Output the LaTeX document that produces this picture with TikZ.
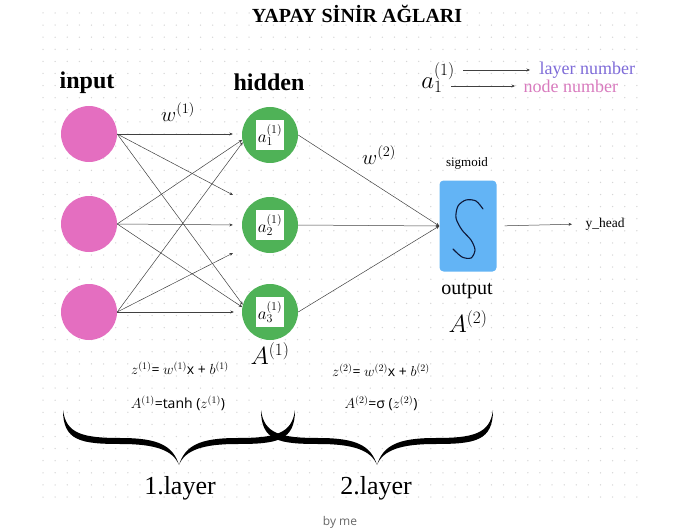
\documentclass[tikz,border=0pt]{standalone}
\usepackage{fontspec}
\setmainfont{Liberation Serif}
\setsansfont{Open Sans}
\usepackage{tikz}
\usetikzlibrary{arrows.meta,positioning}

\definecolor{inpink}{HTML}{E46EC0}
\definecolor{hidgreen}{HTML}{4FB257}
\definecolor{outblue}{HTML}{63B4F5}
\definecolor{sdark}{HTML}{0E1838}
\definecolor{laypurple}{HTML}{7E6BD8}
\definecolor{nodpink}{HTML}{D87BBE}

% curly brace under one layer, #1 = top left corner
\newcommand{\layerbrace}[1]{%
  \fill[shift={#1}] (0,0) .. controls (3,24) and (20,28) .. (58,28)
     .. controls (96,28) and (110,36) .. (116,55)
     .. controls (122,36) and (136,28) .. (174,28)
     .. controls (212,28) and (229,24) .. (232,0)
     .. controls (232,31) and (214,34) .. (174,34)
     .. controls (140,34) and (122,40) .. (116,55)
     .. controls (110,40) and (92,34) .. (58,34)
     .. controls (18,34) and (0,31) .. (0,0) -- cycle;}

\begin{document}
\begin{tikzpicture}[x=1pt, y=-1pt,
  inn/.style   = {circle, fill=inpink, minimum size=56pt, inner sep=0pt},
  hid/.style   = {circle, fill=hidgreen, minimum size=56pt, inner sep=0pt},
  abox/.style  = {rectangle, fill=white, minimum width=28pt, minimum height=30pt,
                  inner sep=0.5pt, font=\fontsize{18}{18}\selectfont},
  outbox/.style= {rectangle, rounded corners=4pt, fill=outblue,
                  minimum width=57pt, minimum height=91pt},
  lbl/.style   = {font=\bfseries\fontsize{24}{26}\selectfont},
  wlbl/.style  = {font=\fontsize{20}{20}\selectfont},
  big/.style   = {font=\fontsize{20}{20}\selectfont},
  bigm/.style  = {font=\fontsize{24}{24}\selectfont},
  eq/.style    = {font=\fontsize{14}{15}\selectfont},
  lay/.style   = {font=\fontsize{26}{28}\selectfont},
  arr/.style   = {-{Stealth[length=3.5pt,width=3pt]}, line width=0.5pt, draw=black!75}
]
\useasboundingbox (0,0) rectangle (680,532);

% , - Dotted paper , -
\foreach \i in {0,...,49}
  \foreach \j in {0,...,40}
    \fill[black!16] (43+12.12*\i, 13+12.1*\j) circle (0.75);

% , - Title and legend , -
\node[font=\bfseries\fontsize{20}{22}\selectfont] (title) at (357,14) {YAPAY SİNİR AĞLARI};
\node[font=\fontsize{27}{27}\selectfont] (leg) at (438,78) {$a_1^{(1)}$};
\node[anchor=west, font=\fontsize{18}{18}\selectfont, text=laypurple] (layno) at (536,70) {layer number};
\node[anchor=west, font=\fontsize{18}{18}\selectfont, text=nodpink]  (nodno) at (520,86) {node number};
\draw[arr] ([xshift=5pt]leg.east |- layno.west) -- ([xshift=-6pt]layno.west);
\draw[arr] ([xshift=-7pt]leg.east |- nodno.west) -- ([xshift=-5pt]nodno.west);

% , - Input layer , -
\node[lbl] (inlbl) at (87,83) {input};
\node[inn] (in1) at (89,134) {};
\node[inn] (in2) at (89,224) {};
\node[inn] (in3) at (89,312) {};

% , - Hidden layer , -
\node[lbl] (hidlbl) at (269,82) {hidden};
\node[hid] (hid1) at (270,135) {};
\node[hid] (hid2) at (270,225) {};
\node[hid] (hid3) at (270,312) {};
\node[abox] (a1) at (hid1) {$a_1^{(1)}$};
\node[abox] (a2) at (hid2) {$a_2^{(1)}$};
\node[abox] (a3) at (hid3) {$a_3^{(1)}$};
\node[bigm] (A1) at (270,354) {$A^{(1)}$};

% , - Output , -
\node[outbox] (out) at (468,226) {};
\draw[sdark, line width=1.1pt, line cap=round] plot[smooth] coordinates
  {(483,209) (476,201) (466,200) (458,206) (456,218) (462,230) (471,240)
   (475,250) (471,258) (462,257) (453,249)};
\node[font=\fontsize{13}{14}\selectfont] (sig) at (467,163) {sigmoid};
\node[big] (outlbl) at (467,291) {output};
\node[bigm] (A2) at (468,322) {$A^{(2)}$};
\node[anchor=west, font=\fontsize{13.5}{15}\selectfont] (yhead) at (582,224) {y\_head};

% , - Weights , -
\coordinate (s1) at (233,195);
\coordinate (s2) at (233,253);
\node[wlbl] (w1) at (178,112) {$w^{(1)}$};
\node[wlbl] (w2) at (379,155) {$w^{(2)}$};

% , - Arrows , -
\draw[arr, shorten >=9pt] (in1.east) -- (hid1.west |- in1.east);
\draw[arr] (in1.east) -- (s1);
\draw[arr] (in1.east) -- (hid3.165);
\draw[arr] (in2.east) -- (hid1.190);
\draw[arr, shorten >=9pt] (in2.east) -- (hid2.west);
\draw[arr] (in2.east) -- (hid3.170);
\draw[arr] (in3.east) -- (hid1.195);
\draw[arr] (in3.east) -- (s2);
\draw[arr, shorten >=8pt] (in3.east) -- (hid3.west);
\draw[arr] (hid1.east) -- (out.west);
\draw[arr] (hid2.east) -- (out.west);
\draw[arr] (hid3.east) -- (out.west);
\draw[arr, shorten <=8pt, shorten >=10pt] (out.east) -- (yhead.west);

% , - Formulas , -
\node[eq] (z1) at (180,368) {$z^{(1)}$\textsf{= }$w^{(1)}$\textsf{x + }$b^{(1)}$};
\node[eq] (f1) at (178,403) {$A^{(1)}$\textsf{=tanh (}$z^{(1)}$\textsf{)}};
\node[eq] (z2) at (381,370) {$z^{(2)}$\textsf{= }$w^{(2)}$\textsf{x + }$b^{(2)}$};
\node[eq] (f2) at (381,403) {$A^{(2)}$\textsf{=σ (}$z^{(2)}$\textsf{)}};

% , - Layer braces , -
\layerbrace{(63,410)}
\layerbrace{(261,410)}
\node[lay] (lay1) at (180,488) {1.layer};
\node[lay] (lay2) at (376,488) {2.layer};
\node[font=\sffamily\fontsize{12}{14}\selectfont, text=black!60] (byme) at (340,522) {by me};

\end{tikzpicture}
\end{document}
